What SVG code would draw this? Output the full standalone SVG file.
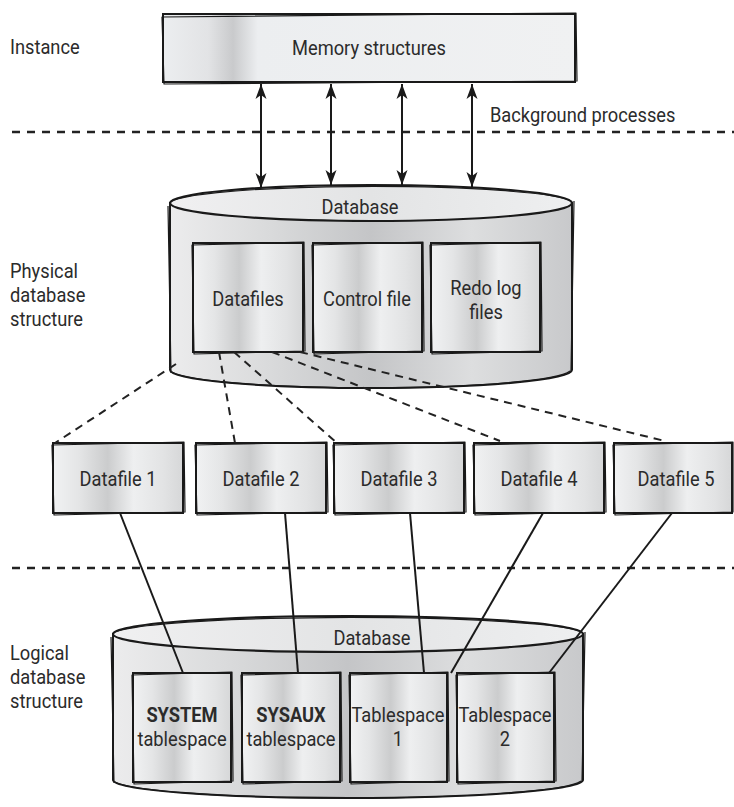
<svg xmlns="http://www.w3.org/2000/svg" width="734" height="807" viewBox="0 0 734 807">
  <defs>
    <style>
      text { font-family: Roboto, "Liberation Sans", Arial, sans-serif; fill: #2b2b2b; font-size: 21px;
             transform-box: fill-box; transform-origin: center; transform: scaleX(0.87); }
      .left { transform-origin: left; }
      .mid { text-anchor: middle; }
      .bold { font-weight: bold; }
      .box { fill: url(#boxGrad); stroke: #1a1a1a; stroke-width: 2; }
      .mem { fill: url(#memGrad); stroke: #1a1a1a; stroke-width: 2; }
      .sk { fill: none; stroke: #1a1a1a; stroke-width: 1.2; stroke-linejoin: round; }
      .body { fill: url(#cylGrad); stroke: #1a1a1a; stroke-width: 2; }
      .lid { fill: url(#lidGrad); stroke: #1a1a1a; stroke-width: 2.2; }
      .sep { fill: none; stroke: #222; stroke-width: 2.6; stroke-dasharray: 8 7; }
      .dash { fill: none; stroke: #222; stroke-width: 2; stroke-dasharray: 8 6; }
      .line { fill: none; stroke: #1a1a1a; stroke-width: 2; }
      .arrow { fill: none; stroke: #1a1a1a; stroke-width: 2; marker-start: url(#head); marker-end: url(#head); }
    </style>
    <linearGradient id="boxGrad" x1="0" y1="0" x2="1" y2="0">
      <stop offset="0" stop-color="#f1f2f3"/>
      <stop offset="0.2" stop-color="#e4e5e6"/>
      <stop offset="0.42" stop-color="#cbcccd"/>
      <stop offset="0.62" stop-color="#eeeff0"/>
      <stop offset="0.85" stop-color="#e2e3e4"/>
      <stop offset="1" stop-color="#d6d7d8"/>
    </linearGradient>
    <linearGradient id="memGrad" x1="0" y1="0" x2="1" y2="0">
      <stop offset="0" stop-color="#eceef0"/>
      <stop offset="0.11" stop-color="#e2e3e5"/>
      <stop offset="0.17" stop-color="#c9cacc"/>
      <stop offset="0.23" stop-color="#eceef0"/>
      <stop offset="1" stop-color="#f0f1f2"/>
    </linearGradient>
    <linearGradient id="cylGrad" x1="0" y1="0" x2="1" y2="0">
      <stop offset="0" stop-color="#ececed"/>
      <stop offset="0.25" stop-color="#d9dadb"/>
      <stop offset="0.5" stop-color="#c4c5c7"/>
      <stop offset="0.75" stop-color="#dddedf"/>
      <stop offset="1" stop-color="#c8c9cb"/>
    </linearGradient>
    <linearGradient id="lidGrad" x1="0" y1="0" x2="1" y2="0">
      <stop offset="0" stop-color="#f0f0f1"/>
      <stop offset="0.5" stop-color="#e3e4e5"/>
      <stop offset="1" stop-color="#eeeff0"/>
    </linearGradient>
    <marker id="head" markerUnits="userSpaceOnUse" markerWidth="16" markerHeight="12" viewBox="0 -6 16 12" refX="15" refY="0" orient="auto-start-reverse">
      <path d="M0,-5.5 L15,0 L0,5.5 L4,0 Z" fill="#1a1a1a"/>
    </marker>
  </defs>

  <!-- layer labels -->
  <g id="labels">
    <text class="left" x="10" y="54">Instance</text>
    <text class="left" x="490" y="122">Background processes</text>
    <text class="left" x="10" y="278">Physical</text>
    <text class="left" x="10" y="302">database</text>
    <text class="left" x="10" y="326">structure</text>
    <text class="left" x="10" y="660">Logical</text>
    <text class="left" x="10" y="684">database</text>
    <text class="left" x="10" y="708">structure</text>
  </g>

  <!-- layer separators -->
  <g id="separators">
    <line class="sep" x1="12" y1="132" x2="734" y2="132"/>
    <line class="sep" x1="12" y1="568" x2="734" y2="568"/>
  </g>

  <!-- instance -->
  <g id="memory">
    <rect class="mem" x="163" y="14" width="412" height="68"/>
    <path class="sk" d="M162,17 L576,13 L577,81 L164,84 Z"/>
    <text class="mid" x="369" y="55">Memory structures</text>
  </g>

  <!-- physical database -->
  <g id="physical-db">
    <path class="body" d="M170,203 L170,370 A201,18 0 0 0 572,370 L572,203 Z"/>
    <path class="sk" d="M168,206 L171,373 M574,201 L571,372 M172,372 A201,19 0 0 0 570,371"/>
    <ellipse class="lid" cx="371" cy="203" rx="201" ry="18"/>
    <path class="sk" d="M171,205 A201,17 0 0 1 572,202"/>
    <text class="mid" x="360" y="214">Database</text>
  </g>
  <g id="datafiles">
    <rect class="box" x="193" y="243" width="110" height="109"/>
    <path class="sk" d="M192,245 L304,242 L305,351 L194,354 Z"/>
    <text class="mid" x="248" y="306">Datafiles</text>
  </g>
  <g id="control-file">
    <rect class="box" x="313" y="243" width="109" height="109"/>
    <path class="sk" d="M312,245 L423,242 L424,351 L314,354 Z"/>
    <text class="mid" x="367" y="306">Control file</text>
  </g>
  <g id="redo-log">
    <rect class="box" x="431" y="243" width="109" height="109"/>
    <path class="sk" d="M430,245 L541,242 L542,351 L432,354 Z"/>
    <text class="mid" x="486" y="295">Redo log</text>
    <text class="mid" x="486" y="319">files</text>
  </g>

  <!-- datafile row -->
  <g id="datafile-1">
    <rect class="box" x="53" y="443" width="130" height="70"/>
    <path class="sk" d="M52,445 L184,442 L185,512 L54,515 Z"/>
    <text class="mid" x="118" y="486">Datafile 1</text>
  </g>
  <g id="datafile-2">
    <rect class="box" x="196" y="443" width="130" height="70"/>
    <path class="sk" d="M195,445 L327,442 L328,512 L197,515 Z"/>
    <text class="mid" x="261" y="486">Datafile 2</text>
  </g>
  <g id="datafile-3">
    <rect class="box" x="334" y="443" width="130" height="70"/>
    <path class="sk" d="M333,445 L465,442 L466,512 L335,515 Z"/>
    <text class="mid" x="399" y="486">Datafile 3</text>
  </g>
  <g id="datafile-4">
    <rect class="box" x="474" y="443" width="130" height="70"/>
    <path class="sk" d="M473,445 L605,442 L606,512 L475,515 Z"/>
    <text class="mid" x="539" y="486">Datafile 4</text>
  </g>
  <g id="datafile-5">
    <rect class="box" x="614" y="443" width="118" height="70"/>
    <path class="sk" d="M613,445 L733,442 L733,512 L615,515 Z"/>
    <text class="mid" x="676" y="486">Datafile 5</text>
  </g>

  <!-- logical database -->
  <g id="logical-db">
    <path class="body" d="M113,634 L113,780 A235,18 0 0 0 583,780 L583,634 Z"/>
    <path class="sk" d="M111,637 L114,783 M585,632 L582,782 M115,782 A235,19 0 0 0 581,781"/>
    <ellipse class="lid" cx="348" cy="634" rx="235" ry="18"/>
    <path class="sk" d="M114,636 A235,17 0 0 1 583,633"/>
    <text class="mid" x="372" y="645">Database</text>
  </g>
  <g id="system-ts">
    <rect class="box" x="133" y="673" width="98" height="109"/>
    <path class="sk" d="M132,675 L232,672 L233,781 L134,784 Z"/>
    <text class="mid bold" x="182" y="722">SYSTEM</text>
    <text class="mid" x="182" y="746">tablespace</text>
  </g>
  <g id="sysaux-ts">
    <rect class="box" x="242" y="673" width="98" height="109"/>
    <path class="sk" d="M241,675 L341,672 L342,781 L243,784 Z"/>
    <text class="mid bold" x="291" y="722">SYSAUX</text>
    <text class="mid" x="291" y="746">tablespace</text>
  </g>
  <g id="tablespace-1">
    <rect class="box" x="350" y="673" width="97" height="109"/>
    <path class="sk" d="M349,675 L448,672 L449,781 L351,784 Z"/>
    <text class="mid" x="398" y="722">Tablespace</text>
    <text class="mid" x="398" y="746">1</text>
  </g>
  <g id="tablespace-2">
    <rect class="box" x="457" y="673" width="97" height="109"/>
    <path class="sk" d="M456,675 L555,672 L556,781 L458,784 Z"/>
    <text class="mid" x="505" y="722">Tablespace</text>
    <text class="mid" x="505" y="746">2</text>
  </g>

  <!-- connectors -->
  <g id="connectors">
    <line class="arrow" x1="261" y1="84" x2="261" y2="188"/>
    <line class="arrow" x1="331" y1="84" x2="331" y2="185"/>
    <line class="arrow" x1="402" y1="84" x2="402" y2="185"/>
    <line class="arrow" x1="472" y1="84" x2="472" y2="187"/>

    <line class="dash" x1="176" y1="364" x2="55" y2="443"/>
    <line class="dash" x1="219" y1="352" x2="235" y2="443"/>
    <line class="dash" x1="234" y1="352" x2="337" y2="443"/>
    <line class="dash" x1="272" y1="352" x2="500" y2="441"/>
    <line class="dash" x1="300" y1="352" x2="665" y2="441"/>

    <line class="line" x1="120" y1="513" x2="183" y2="673"/>
    <line class="line" x1="285" y1="513" x2="298" y2="673"/>
    <line class="line" x1="410" y1="513" x2="424" y2="673"/>
    <line class="line" x1="543" y1="513" x2="451" y2="673"/>
    <line class="line" x1="672" y1="513" x2="549" y2="673"/>
  </g>
</svg>
